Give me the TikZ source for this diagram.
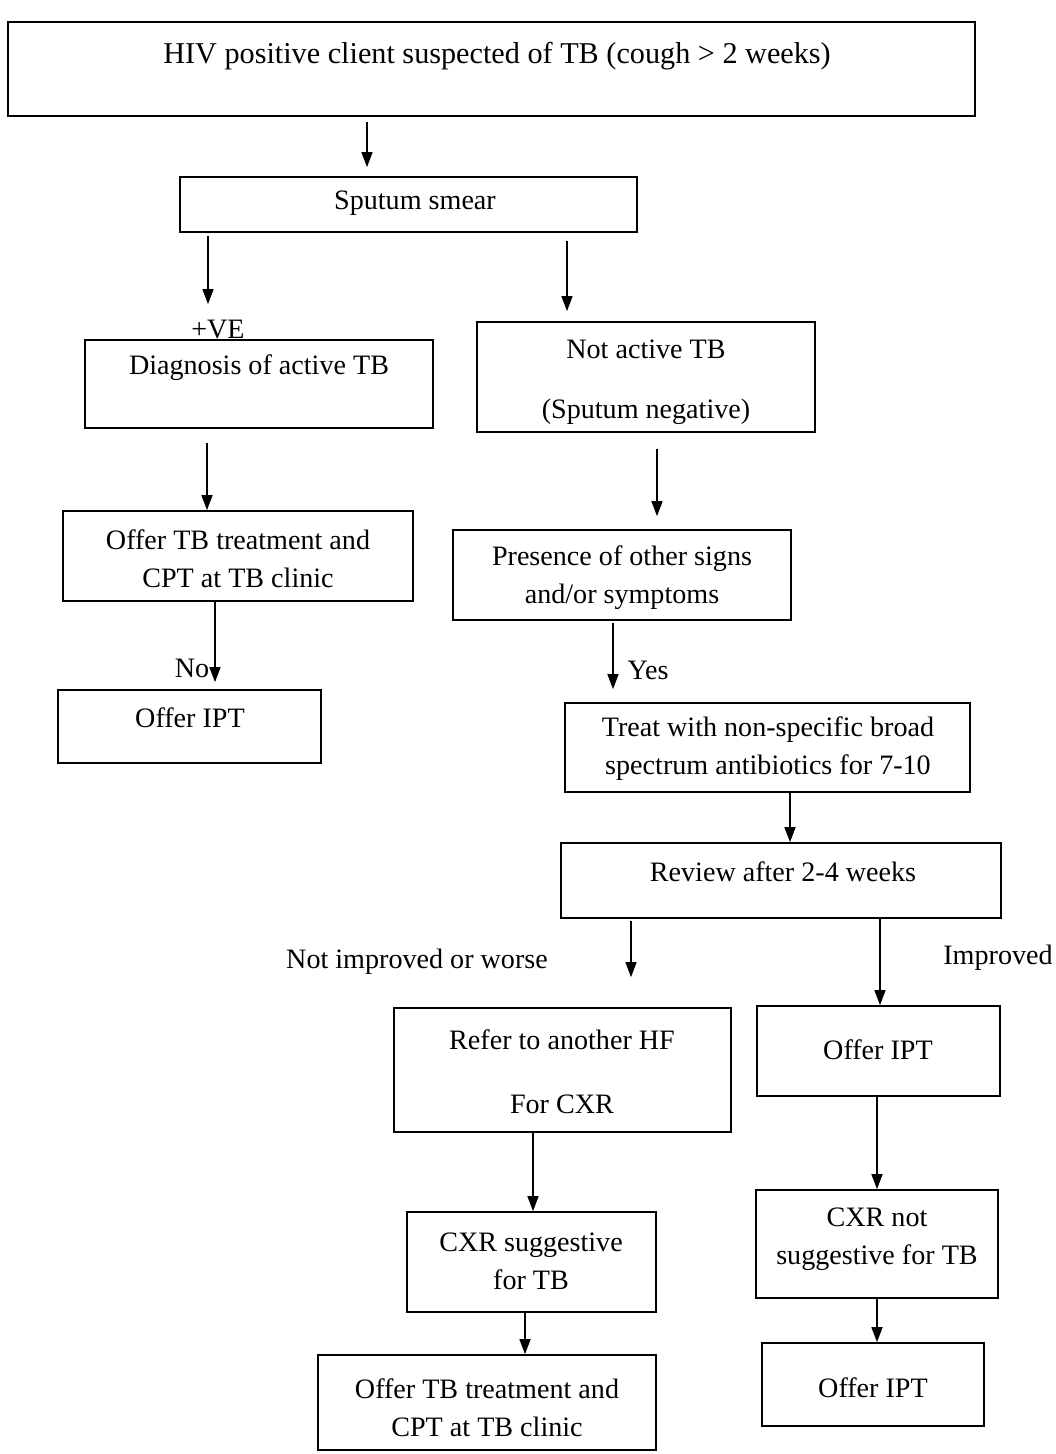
\documentclass[tikz,border=0pt]{standalone}
\usepackage{fontspec}
\setmainfont{Liberation Serif}
\usetikzlibrary{arrows.meta}
\begin{document}
\begin{tikzpicture}[x=0.02cm,y=-0.02cm,
  box/.style={draw,line width=1pt,inner sep=0pt},
  txt/.style={inner sep=0pt,align=center,font=\fontsize{16}{21.6}\selectfont},
  arr/.style={line width=0.8pt,-{Triangle[length=0.3cm,width=0.22cm]}}]
\useasboundingbox (0,0) rectangle (1055,1454);
% boxes
\node[box,minimum width=19.34cm,minimum height=1.88cm] (top) at (491.5,69) {};
\node[box,minimum width=9.14cm,minimum height=1.1cm] (sputum) at (408.5,204.5) {};
\node[box,minimum width=6.96cm,minimum height=1.76cm] (diag) at (259,384) {};
\node[box,minimum width=6.76cm,minimum height=2.2cm] (notact) at (646,377) {};
\node[box,minimum width=7.0cm,minimum height=1.8cm] (offtb) at (238,556) {};
\node[box,minimum width=5.26cm,minimum height=1.46cm] (ipta) at (189.5,726.5) {};
\node[box,minimum width=6.76cm,minimum height=1.8cm] (pres) at (622,575) {};
\node[box,minimum width=8.1cm,minimum height=1.78cm] (treat) at (767.5,747.5) {};
\node[box,minimum width=8.8cm,minimum height=1.5cm] (review) at (781,880.5) {};
\node[box,minimum width=6.74cm,minimum height=2.48cm] (refer) at (562.5,1070) {};
\node[box,minimum width=4.86cm,minimum height=1.8cm] (iptb) at (878.5,1051) {};
\node[box,minimum width=4.98cm,minimum height=2.0cm] (cxr) at (531.5,1262) {};
\node[box,minimum width=4.84cm,minimum height=2.16cm] (cxrn) at (877,1244) {};
\node[box,minimum width=6.76cm,minimum height=1.9cm] (tbb) at (487,1402.5) {};
\node[box,minimum width=4.44cm,minimum height=1.66cm] (iptc) at (873,1384.5) {};
% texts
\node[txt,font=\fontsize{17.2}{21.6}\selectfont] (top-t) at (497,56) {HIV positive client suspected of TB (cough > 2 weeks)};
\node[txt] (sputum-t) at (415,203) {Sputum smear};
\node[txt] (diag-t) at (259,368) {Diagnosis of active TB};
\node[txt] (notact-t) at (646,382) {Not active TB\\[0.44cm](Sputum negative)};
\node[txt] (offtb-t) at (238,559) {Offer TB treatment and\\CPT at TB clinic};
\node[txt] (ipta-t) at (190,718) {Offer IPT};
\node[txt] (pres-t) at (622,578) {Presence of other signs\\and/or symptoms};
\node[txt] (treat-t) at (768,749) {Treat with non-specific broad\\spectrum antibiotics for 7-10};
\node[txt] (review-t) at (783,872) {Review after 2-4 weeks};
\node[txt] (refer-t) at (562,1072) {Refer to another HF\\[0.52cm]For CXR};
\node[txt] (iptb-t) at (878,1050) {Offer IPT};
\node[txt] (cxr-t) at (531,1261) {CXR suggestive\\for TB};
\node[txt] (cxrn-t) at (877,1239) {CXR not\\suggestive for TB};
\node[txt] (tbb-t) at (487,1408) {Offer TB treatment and\\CPT at TB clinic};
\node[txt] (iptc-t) at (873,1388) {Offer IPT};
% labels
\node[txt] (lve) at (218,330) {+VE};
\node[txt] (lno) at (192,668) {No};
\node[txt] (lyes) at (648,670) {Yes};
\node[txt] (lnot) at (417,962) {Not improved or worse};
\node[txt] (limp) at (998,958) {Improved};
% connectors
\draw[arr,shorten <=0.1cm,shorten >=0.18cm] (top.south -| 367,0) -- (sputum.north -| 367,0);
\draw[arr,shorten <=0.06cm,shorten >=0.7cm] (sputum.south -| 208,0) -- (diag.north -| 208,0);
\draw[arr,shorten <=0.16cm,shorten >=0.2cm] (sputum.south -| 567,0) -- (notact.north -| 567,0);
\draw[arr,shorten <=0.28cm] (diag.south -| 207,0) -- (offtb.north -| 207,0);
\draw[arr,shorten >=0.14cm] (offtb.south -| 215,0) -- (ipta.north -| 215,0);
\draw[arr,shorten <=0.32cm,shorten >=0.26cm] (notact.south -| 657,0) -- (pres.north -| 657,0);
\draw[arr,shorten <=0.04cm,shorten >=0.26cm] (pres.south -| 613,0) -- (treat.north -| 613,0);
\draw[arr] (treat.south -| 790,0) -- (review.north -| 790,0);
\draw[arr,shorten <=0.04cm,shorten >=0.6cm] (review.south -| 631,0) -- (refer.north -| 631,0);
\draw[arr] (review.south -| 880,0) -- (iptb.north -| 880,0);
\draw[arr] (refer.south -| 533,0) -- (cxr.north -| 533,0);
\draw[arr] (iptb.south -| 877,0) -- (cxrn.north -| 877,0);
\draw[arr] (cxr.south -| 525,0) -- (tbb.north -| 525,0);
\draw[arr] (cxrn.south -| 877,0) -- (iptc.north -| 877,0);
\end{tikzpicture}
\end{document}
